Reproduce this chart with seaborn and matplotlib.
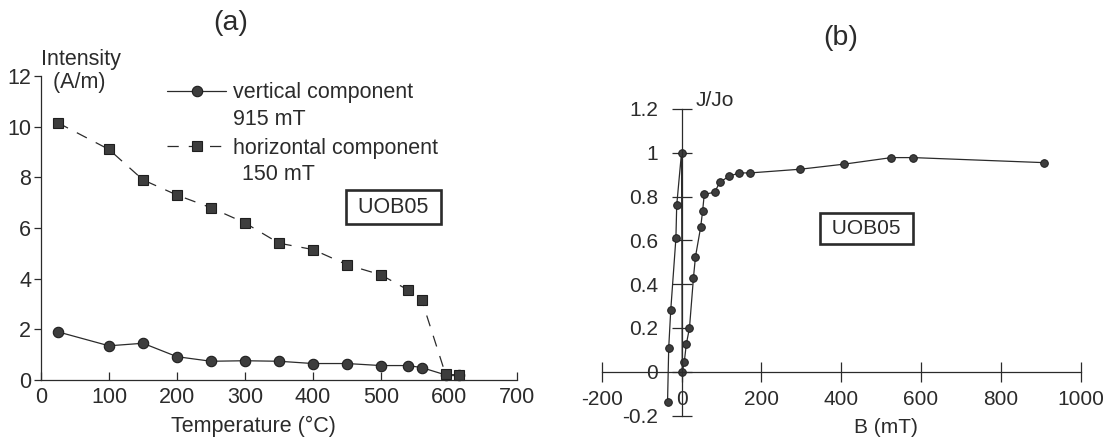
import matplotlib
matplotlib.use("Agg")
import matplotlib.pyplot as plt
import seaborn as sns
from matplotlib.ticker import FuncFormatter

# ---------------- data ----------------
temp_vertical = [25, 100, 150, 200, 250, 300, 350, 400, 450, 500, 540, 560, 595, 615]
intensity_vertical = [1.9, 1.35, 1.45, 0.92, 0.74, 0.76, 0.74, 0.65, 0.65, 0.57, 0.57, 0.49, 0.2, 0.18]
temp_horizontal = [25, 100, 150, 200, 250, 300, 350, 400, 450, 500, 540, 560, 595, 615]
intensity_horizontal = [10.15, 9.1, 7.9, 7.3, 6.8, 6.2, 5.4, 5.15, 4.55, 4.15, 3.55, 3.15, 0.22, 0.2]

field_mT = [-35, -32, -27, -14, -12, 0, 2, 7, 12, 20, 30, 35, 48, 53, 57,
            83, 96, 119, 145, 172, 298, 407, 526, 581, 908]
j_ratio = [-0.14, 0.11, 0.28, 0.61, 0.76, 1.0, 0.0, 0.045, 0.125, 0.2, 0.43, 0.525, 0.66, 0.735, 0.81,
           0.82, 0.865, 0.893, 0.908, 0.908, 0.925, 0.948, 0.978, 0.978, 0.955]

xticks_a = [0, 100, 200, 300, 400, 500, 600, 700]
yticks_a = [0, 2, 4, 6, 8, 10, 12]
xticks_b = [-200, 0, 200, 400, 600, 800, 1000]
yticks_b = [-0.2, 0, 0.2, 0.4, 0.6, 0.8, 1.0, 1.2]
legend_labels = ["vertical component", "horizontal component"]
legend_fields = ["915 mT", "150 mT"]
sample_name = "UOB05"

# ---------------- style ----------------
sns.set_theme(style="white")
plt.rcParams["font.family"] = ["Liberation Sans", "DejaVu Sans"]
plt.rcParams["axes.unicode_minus"] = False
ink = "#2b2b2b"
mfill = "#3d3d3d"
FS = 15.5

fig = plt.figure(figsize=(11.07, 4.37), dpi=100)
W, H = 1107, 437
axA = fig.add_axes([41 / W, 1 - 380 / H, 476 / W, 304 / H])
axB = fig.add_axes([601.7 / W, 1 - 415.5 / H, 478.8 / W, 306.5 / H])

# ---------------- panel (a) ----------------
sns.lineplot(x=temp_vertical, y=intensity_vertical, ax=axA, color=ink, lw=0.9,
             marker="o", ms=7.5, mfc=mfill, mec="#1e1e1e", mew=0.8, clip_on=False)
sns.lineplot(x=temp_horizontal, y=intensity_horizontal, ax=axA, color=ink, lw=0.9,
             linestyle=(0, (9, 8)), marker="s", ms=7.5, mfc=mfill, mec="#1e1e1e",
             mew=0.8, clip_on=False)

axA.set_xlim(0, 700)
axA.set_ylim(0, 12)
axA.set_xticks(xticks_a)
axA.set_yticks(yticks_a)
for s in ["top", "right"]:
    axA.spines[s].set_visible(False)
for s in ["left", "bottom"]:
    axA.spines[s].set_color(ink)
    axA.spines[s].set_linewidth(0.9)
axA.tick_params(axis="x", bottom=True, direction="in", length=6, width=0.9, pad=5,
                labelsize=FS, color=ink, labelcolor=ink)
axA.tick_params(axis="y", left=True, direction="out", length=5, width=0.9, pad=2,
                labelsize=FS, color=ink, labelcolor=ink)

axA.set_xlabel("Temperature (°C)", fontsize=FS, color=ink)
axA.xaxis.set_label_coords(313 / 700, -1.85 / 12)
axA.xaxis.label.set_va("center")
axA.set_ylabel("Intensity\n  (A/m)", fontsize=FS, color=ink, rotation=0,
               ha="left", va="center", multialignment="left", linespacing=1.15)
axA.yaxis.set_label_coords(0.5 / 700, 12.2 / 12)

axA.text(279 / 700, 14.1 / 12, "(a)", transform=axA.transAxes, ha="center", va="center",
         fontsize=20.5, color=ink)

lines = axA.get_lines()
leg = axA.legend(lines[:2], legend_labels, loc="upper left",
                 bbox_to_anchor=(184.7 / 700, 11.75 / 12), frameon=False,
                 handlelength=2.78, handletextpad=0.3, labelspacing=1.6,
                 borderpad=0, borderaxespad=0, fontsize=FS, numpoints=1)
for t in leg.get_texts():
    t.set_color(ink)
axA.text(283, 10.29, legend_fields[0], ha="left", va="center", fontsize=FS, color=ink)
axA.text(295, 8.1, legend_fields[1], ha="left", va="center", fontsize=FS, color=ink)

axA.text(518, 6.82, f" {sample_name} ", ha="center", va="center", fontsize=FS, color=ink,
         bbox=dict(boxstyle="square,pad=0.3", fc="white", ec=ink, lw=1.9))

# ---------------- panel (b) ----------------
sns.lineplot(x=field_mT, y=j_ratio, ax=axB, sort=False, estimator=None, color=ink,
             lw=0.9, marker="o", ms=5.5, mfc=mfill, mec="#1e1e1e", mew=0.7, clip_on=False)

axB.set_xlim(-200, 1000)
axB.set_ylim(-0.2, 1.2)
axB.set_xticks(xticks_b)
axB.set_yticks(yticks_b)
axB.yaxis.set_major_formatter(FuncFormatter(lambda v, p: f"{v:g}"))
axB.xaxis.set_major_formatter(FuncFormatter(lambda v, p: f"{v:g}"))
axB.spines["left"].set_position(("data", 0))
axB.spines["bottom"].set_position(("data", 0))
for s in ["top", "right"]:
    axB.spines[s].set_visible(False)
for s in ["left", "bottom"]:
    axB.spines[s].set_color(ink)
    axB.spines[s].set_linewidth(0.9)
axB.tick_params(axis="x", bottom=True, direction="inout", length=15, width=0.9, pad=6,
                labelsize=15, color=ink, labelcolor=ink)
axB.tick_params(axis="y", left=True, direction="inout", length=14, width=0.9, pad=10,
                labelsize=15, color=ink, labelcolor=ink)

axB.set_xlabel("B (mT)", fontsize=15, color=ink)
axB.xaxis.set_label_coords(712.6 / 1200, -0.055 / 1.4)
axB.xaxis.label.set_va("center")
axB.set_ylabel("J/Jo", fontsize=15, color=ink, rotation=0, ha="left", va="center")
axB.yaxis.set_label_coords(236 / 1200, 1.441 / 1.4)

axB.text(0.5, 1.726 / 1.4, "(b)", transform=axB.transAxes, ha="center", va="center",
         fontsize=20.5, color=ink)
axB.text(463, 0.655, f" {sample_name} ", ha="center", va="center", fontsize=15, color=ink,
         bbox=dict(boxstyle="square,pad=0.3", fc="white", ec=ink, lw=1.9))

fig.savefig("out.png", dpi=100, facecolor="white")
